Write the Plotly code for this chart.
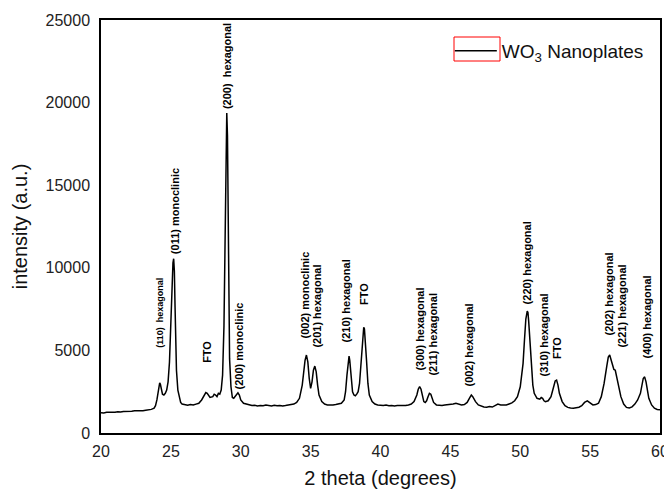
import plotly.graph_objects as go

two_theta = [
    20.0, 20.2, 20.4, 20.6, 20.8, 21.0, 21.2, 21.4, 21.6, 21.8, 22.0, 22.2, 22.4, 22.6, 22.8,
    23.0, 23.2, 23.4, 23.6, 23.8, 23.9, 24.0, 24.1, 24.15, 24.2, 24.25, 24.3, 24.4, 24.5, 24.6,
    24.7, 24.8, 24.9, 25.0, 25.05, 25.1, 25.15, 25.2, 25.25, 25.3, 25.35, 25.4, 25.5, 25.6, 25.7,
    25.8, 26.0, 26.2, 26.4, 26.6, 26.8, 27.0, 27.2, 27.4, 27.5, 27.6, 27.8, 28.0, 28.1, 28.2,
    28.3, 28.4, 28.5, 28.6, 28.7, 28.8, 28.85, 28.9, 28.95, 29.0, 29.05, 29.1, 29.15, 29.2, 29.3,
    29.4, 29.5, 29.6, 29.7, 29.8, 29.9, 30.0, 30.2, 30.4, 30.6, 30.8, 31.0, 31.2, 31.4, 31.6,
    31.8, 32.0, 32.2, 32.4, 32.6, 32.8, 33.0, 33.2, 33.4, 33.6, 33.8, 34.0, 34.2, 34.4, 34.5,
    34.6, 34.7, 34.8, 34.9, 35.0, 35.1, 35.2, 35.3, 35.4, 35.5, 35.6, 35.8, 36.0, 36.2, 36.4,
    36.6, 36.8, 37.0, 37.2, 37.4, 37.5, 37.6, 37.7, 37.75, 37.8, 37.9, 38.0, 38.1, 38.2, 38.3,
    38.4, 38.5, 38.6, 38.7, 38.8, 38.85, 38.9, 39.0, 39.1, 39.2, 39.4, 39.6, 39.8, 40.0, 40.2,
    40.4, 40.6, 40.8, 41.0, 41.2, 41.4, 41.6, 41.8, 42.0, 42.2, 42.4, 42.6, 42.7, 42.8, 42.9,
    43.0, 43.1, 43.2, 43.3, 43.4, 43.5, 43.6, 43.7, 43.8, 44.0, 44.2, 44.4, 44.6, 44.8, 45.0,
    45.2, 45.4, 45.6, 45.8, 46.0, 46.2, 46.4, 46.5, 46.6, 46.8, 47.0, 47.2, 47.4, 47.6, 47.8,
    48.0, 48.2, 48.4, 48.6, 48.8, 49.0, 49.2, 49.4, 49.6, 49.8, 50.0, 50.2, 50.3, 50.4, 50.5,
    50.55, 50.6, 50.7, 50.8, 50.9, 51.0, 51.2, 51.4, 51.5, 51.6, 51.7, 51.8, 52.0, 52.2, 52.4,
    52.5, 52.6, 52.7, 52.8, 53.0, 53.2, 53.4, 53.6, 53.8, 54.0, 54.2, 54.4, 54.6, 54.8, 55.0,
    55.2, 55.4, 55.6, 55.8, 56.0, 56.2, 56.3, 56.4, 56.5, 56.6, 56.7, 56.8, 56.9, 57.0, 57.2,
    57.4, 57.6, 57.8, 58.0, 58.2, 58.4, 58.6, 58.7, 58.8, 58.9, 59.0, 59.1, 59.2, 59.4, 59.6,
    59.8, 60.0,
]
intensity = [
    1230, 1210, 1250, 1240, 1270, 1260, 1290, 1270, 1300, 1290, 1320, 1310, 1340, 1330, 1360,
    1350, 1380, 1400, 1430, 1500, 1650, 2000, 2700, 2950, 3030, 2950, 2650, 2350, 2300, 2400,
    2600, 3100, 4300, 6500, 8000, 9600, 10300, 10550, 9800, 7600, 5400, 3800, 2600, 2100, 1850,
    1750, 1700, 1680, 1720, 1690, 1750, 1800, 2000, 2350, 2450, 2400, 2150, 2200, 2350, 2300,
    2200, 2400, 2350, 2600, 3500, 6500, 10500, 14500, 16800, 19370, 18000, 13000, 8000, 4500, 2800,
    2150, 2100, 2200, 2350, 2430, 2300, 2000, 1800, 1760, 1700, 1660, 1680, 1640, 1670, 1650,
    1690, 1660, 1640, 1680, 1650, 1670, 1640, 1660, 1690, 1700, 1750, 1850, 2100, 2900, 3700,
    4400, 4720, 4300, 3300, 2700, 3100, 3800, 4050, 3700, 2900, 2300, 1900, 1750, 1700, 1680,
    1700, 1720, 1750, 1800, 2000, 2500, 3500, 4400, 4660, 4400, 3300, 2500, 2300, 2250, 2350,
    2500, 3000, 4200, 5600, 6400, 6300, 5800, 4400, 3000, 2300, 1900, 1750, 1700, 1680, 1660,
    1690, 1650, 1670, 1640, 1660, 1650, 1680, 1660, 1700, 1750, 1900, 2300, 2650, 2800, 2650,
    2200, 1900, 1850, 1950, 2200, 2400, 2350, 2050, 1850, 1700, 1680, 1660, 1690, 1700, 1720,
    1760, 1800, 1740, 1700, 1720, 1850, 2150, 2300, 2200, 1900, 1700, 1620, 1580, 1560, 1600,
    1570, 1650, 1750, 1700, 1680, 1700, 1760, 1820, 1950, 2200, 2800, 4200, 5600, 6900, 7380,
    7300, 6800, 5300, 3800, 2900, 2400, 2100, 2050, 2150, 2100, 1950, 1900, 1950, 2200, 2800,
    3150, 3200, 2900, 2400, 1900, 1650, 1550, 1520, 1500, 1530, 1560, 1650, 1850, 1940, 1800,
    1700, 1720, 1800, 2200, 3000, 4100, 4600, 4720, 4400, 4000, 3850, 3800, 3400, 2900, 2200,
    1750, 1550, 1520, 1580, 1750, 2000, 2400, 2900, 3300, 3400, 3100, 2600, 2100, 1700, 1500,
    1420, 1400,
]

# peak labels
peak_labels = [
    "(110)  hexagonal", "(011) monoclinic", "FTO", "(200)  hexagonal", "(200) monoclinic",
    "(002) monoclinic", "(201) hexagonal", "(210) hexagonal", "FTO", "(300) hexagonal",
    "(211) hexagonal", "(002) hexagonal", "(220) hexagonal", "(310) hexagonal", "FTO",
    "(202) hexagonal", "(221) hexagonal", "(400) hexagonal",
]
peak_label_x = [24.2, 25.3, 27.58, 29.02, 29.87, 34.6, 35.46, 37.53, 38.82, 42.76,
                43.76, 46.33, 50.55, 51.7, 52.63, 56.28, 57.28, 59.07]
peak_label_y = [5020, 10710, 4120, 19490, 2540, 5570, 5020, 5390, 7630, 3630,
                3330, 2720, 7690, 3270, 4360, 5750, 5080, 4360]
peak_label_size = [9, 11, 11, 11, 11, 11, 11, 11, 11, 11, 11, 11, 11, 11, 11, 11, 11, 11]

x_ticks = [20, 25, 30, 35, 40, 45, 50, 55, 60]
y_ticks = [0, 5000, 10000, 15000, 20000, 25000]

FONT = "Liberation Sans, Arial, sans-serif"

fig = go.Figure()
fig.add_trace(go.Scatter(
    x=two_theta, y=intensity, mode="lines",
    line=dict(color="black", width=1.5),
    name="WO<sub>3</sub> Nanoplates",
))

for txt, px, py, sz in zip(peak_labels, peak_label_x, peak_label_y, peak_label_size):
    fig.add_annotation(
        x=px, y=py, text=txt, showarrow=False, textangle=-90,
        xanchor="center", yanchor="bottom",
        font=dict(family=FONT, size=sz, color="black", weight="bold"),
    )

# red box around legend line sample (as in reference)
fig.add_shape(type="rect", xref="paper", yref="paper",
              x0=0.6315, x1=0.7138, y0=0.9007, y1=0.9588,
              line=dict(color="red", width=1), fillcolor="rgba(0,0,0,0)")

# the page body adds an 8px offset, so the figure is 8px smaller than the window
fig.update_layout(
    width=664, height=483,
    margin=dict(l=93, r=12, t=12, b=58),
    plot_bgcolor="white", paper_bgcolor="white",
    font=dict(family=FONT, color="#222"),
    showlegend=True,
    legend=dict(x=0.624, y=0.971, xanchor="left", yanchor="top",
                bgcolor="rgba(0,0,0,0)", borderwidth=0,
                font=dict(family=FONT, size=19, color="#111"),
                itemwidth=42),
    xaxis=dict(range=[20, 60], tickvals=x_ticks, showgrid=False, zeroline=False,
               showline=True, linecolor="black", linewidth=1.5, mirror=True,
               ticks="", tickfont=dict(size=16, color="#222"), automargin=False,
               ticklabelstandoff=3,
               title=dict(text="2 theta (degrees)", font=dict(size=20, color="#111"), standoff=12)),
    yaxis=dict(range=[0, 25000], tickvals=y_ticks, showgrid=False, zeroline=False,
               showline=True, linecolor="black", linewidth=1.5, mirror=True,
               ticks="", tickformat="d", automargin=False, ticklabelstandoff=6,
               tickfont=dict(size=16, color="#222"),
               title=dict(text="intensity (a.u.)", font=dict(size=20, color="#111"), standoff=13)),
)

fig.write_html("out.html")
